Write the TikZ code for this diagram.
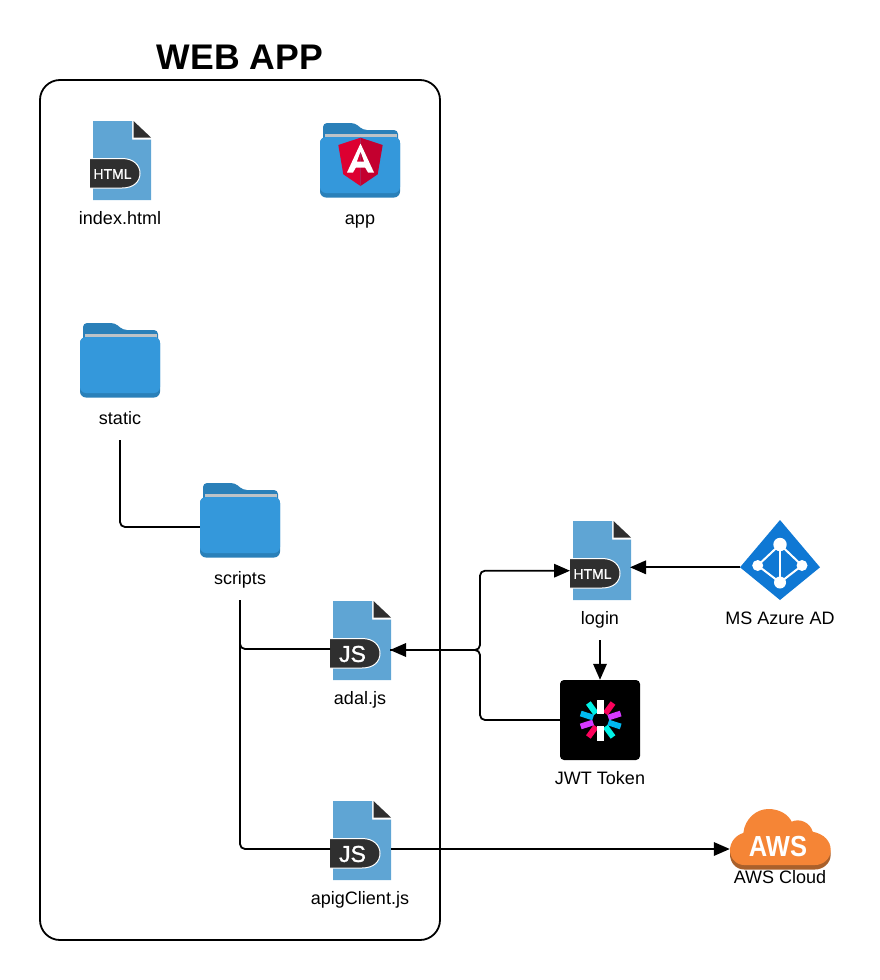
\documentclass[tikz,border=0pt]{standalone}
\usepackage{fontspec}
\setmainfont{Liberation Sans}
\newfontfamily\badgefamily[FakeBold=1.2]{Liberation Sans}
\usetikzlibrary{arrows.meta}

\definecolor{filebody}{HTML}{5FA5D4}
\definecolor{filedark}{HTML}{2F2F2F}
\definecolor{folderfront}{HTML}{3498DB}
\definecolor{folderback}{HTML}{2A80B9}
\definecolor{folderpaper}{HTML}{BDC3C7}
\definecolor{ngleft}{HTML}{DD0031}
\definecolor{ngright}{HTML}{C3002F}
\definecolor{azureblue}{HTML}{0F78D4}
\definecolor{awsorange}{HTML}{F58536}
\definecolor{awsshadow}{HTML}{A9602B}
\definecolor{jwtpink}{HTML}{FB015B}
\definecolor{jwtpurple}{HTML}{D63AFF}
\definecolor{jwtblue}{HTML}{00B9F1}
\definecolor{jwtteal}{HTML}{00F2E6}

\newcommand{\htmlfont}{\badgefamily\fontsize{14}{16}\selectfont}
\newcommand{\jsfont}{\badgefamily\fontsize{23}{25}\selectfont}
\newcommand{\awspath}{(743.3,833) .. controls (745,818) and (757,809) .. (768.3,809)
    .. controls (779,809) and (788,814) .. (791.7,821.7)
    .. controls (799,818) and (810,822) .. (812.7,831.7)
    .. controls (824,834) and (830.7,841) .. (830.7,850)
    .. controls (830.7,859) and (823,865) .. (815,865) -- (744,865)
    .. controls (736,865) and (730,858) .. (730,850)
    .. controls (730,842) and (736,835) .. (743.3,833) -- cycle}

\tikzset{
    wire/.style={line width=1.8pt, rounded corners=5pt},
    tip/.style={-{Triangle[length=16pt,width=13.5pt]}},
    tips/.style={{Triangle[length=16pt,width=13.5pt]}-{Triangle[length=16pt,width=13.5pt]}},
    caption/.style={font=\fontsize{18}{20}\selectfont, minimum height=40pt, inner sep=0pt, text height=12pt, text depth=4pt},
    iconbox/.style={minimum width=80pt, minimum height=80pt, inner sep=0pt},
    pics/fileicon/.style 2 args={code={
        % Sheet with cut corner
        \fill[filebody] (-29,-39.5) -- (10,-39.5) -- (10,-21) -- (29,-21) -- (29,39.5) -- (-29,39.5) -- cycle;
        \fill[filedark] (11.5,-39.5) -- (29,-23) -- (11.5,-23) -- cycle;
        % Badge
        \draw[white, line width=1pt, fill=filedark] (-32,-2) -- (0,-2)
            .. controls (12,-2) and (18,5) .. (18,12.75)
            .. controls (18,21) and (12,27.5) .. (0,27.5) -- (-32,27.5);
        \node[white, inner sep=0pt, font=#2] (badge) at (-9.5,13.5) {#1};
        \node[minimum width=58pt, minimum height=79pt, inner sep=0pt] (box) at (0,0) {};
    }},
    pics/foldericon/.style={code={
        % Back with tab
        \fill[folderback, rounded corners=4pt] (-37,0) -- (-37,-37) -- (-5,-37) -- (3,-30) -- (38,-30) -- (38,0) -- cycle;
        \fill[folderpaper] (-35,-26) rectangle (37,-18);
        % Front
        \fill[folderback, rounded corners=6pt] (-40,-23) rectangle (40,37.5);
        \fill[folderfront, rounded corners=6pt] (-40,-23) rectangle (40,33);
    }}
}

\begin{document}
\begin{tikzpicture}[x=1pt, y=-1pt]
    \useasboundingbox (0,0) rectangle (880,980);

    % Web app frame
    \node[font=\bfseries\fontsize{35.6}{40}\selectfont, inner sep=0pt] (title) at (240,57) {WEB APP};
    \node[draw, line width=1.8pt, rounded corners=20pt, minimum width=400pt, minimum height=860pt] (webapp) at (240,510) {};

    % Files and folders
    \pic (index) at (122,160.5) {fileicon={HTML}{\htmlfont}};
    \node[caption] (indextxt) at (120,220) {index.html};

    \pic (app) at (360,160) {foldericon};
    \node[caption] (apptxt) at (360,220) {app};
    % Angular shield
    \fill[ngleft] (360.5,137.7) -- (338.3,145) -- (343.3,174.3) -- (360.5,186) -- cycle;
    \fill[ngright] (360.5,137.7) -- (382.7,145) -- (377.7,174.3) -- (360.5,186) -- cycle;
    \fill[white, even odd rule] (360.5,143.5) -- (374,172.5) -- (368,172.5) -- (365.2,167.7) -- (355.8,167.7) -- (353,172.5) -- (347,172.5) -- cycle
        (360.5,151.5) -- (364.2,161.7) -- (356.8,161.7) -- cycle;

    \pic (static) at (120,360) {foldericon};
    \node[caption] (statictxt) at (120,420) {static};

    \pic (scripts) at (240,520) {foldericon};
    \node[iconbox] (scriptsbox) at (240,527) {};
    \node[caption] (scriptstxt) at (240,580) {scripts};

    \pic (adal) at (362,640.5) {fileicon={JS}{\jsfont}};
    \node[caption] (adaltxt) at (360,700) {adal.js};

    \pic (apig) at (362,840.5) {fileicon={JS}{\jsfont}};
    \node[caption] (apigtxt) at (360,900) {apigClient.js};

    % Login page
    \pic (login) at (602,560.5) {fileicon={HTML}{\htmlfont}};
    \node[caption] (logintxt) at (600,620) {login};

    % JWT token
    \node[iconbox, fill=black, rounded corners=4pt] (jwt) at (600,720) {};
    \foreach \ang/\col in {36/jwtpink,72/jwtpurple,108/jwtblue,144/jwtteal,216/jwtpink,252/jwtpurple,288/jwtblue,324/jwtteal}
        \fill[\col, shift={(600.7,720)}, rotate=-\ang] (-2.9,-8) rectangle (2.9,-21);
    \foreach \ang in {0,180}
        \fill[white, shift={(600.7,720)}, rotate=-\ang] (-3.3,-6) rectangle (3.3,-20.5);
    \node[caption] (jwttxt) at (600,780) {JWT Token};

    % Azure AD
    \node[iconbox] (azure) at (780,560) {};
    \fill[azureblue] (780,520) -- (820,567.3) -- (780,600) -- (740,567.3) -- cycle;
    \draw[white, line width=2pt, line join=round] (780,544.5) -- (757.7,565.5) -- (780,582.5) -- (802,565.5) -- cycle;
    \draw[white, line width=1.3pt] (780,544.5) -- (780,582.5);
    \fill[white] (780,544.5) circle[radius=6.7] (757.7,565.5) circle[radius=5.5] (802,565.5) circle[radius=5.5] (780,582.5) circle[radius=6];
    \node[caption] (azuretxt) at (780,620) {MS Azure AD};

    % AWS cloud
    \node[minimum width=100pt, minimum height=60pt, inner sep=0pt] (aws) at (780,839) {};
    \fill[awsshadow, shift={(0,4.5)}] \awspath;
    \fill[awsorange] \awspath;
    \node[white, font=\bfseries\fontsize{29}{30}\selectfont, inner sep=0pt] (awslogo) at (778,846.5) {\scalebox{0.88}[1]{AWS}};
    \node[caption] (awstxt) at (780,879) {AWS Cloud};

    % Free ends of the connectors
    \coordinate (adalin) at (330,649);
    \coordinate (adalout) at (390,650);
    \coordinate (apigin) at (330,849);
    \coordinate (apigout) at (391,849);
    \coordinate (loginin) at (570,570.7);
    \coordinate (loginout) at (630,567.3);
    \coordinate (azureout) at (740,567.3);
    \coordinate (fork) at (480,650);

    % Connectors
    \draw[wire] (statictxt.south) |- (scriptsbox.west);
    \draw[wire] (scriptstxt.south) |- (adalin);
    \draw[wire] (scriptstxt.south) |- (apigin);
    \draw[wire, tips] (adalout) -- (fork) -- (fork |- loginin) -- (loginin);
    \draw[wire] (jwt.west) -| (fork) -- (adalout);
    \draw[wire, tip] (azureout) -- (loginout);
    \draw[wire, tip] (logintxt.south) -- (jwt.north);
    \draw[wire, tip] (apigout) -- (apigout -| aws.west);
\end{tikzpicture}
\end{document}
